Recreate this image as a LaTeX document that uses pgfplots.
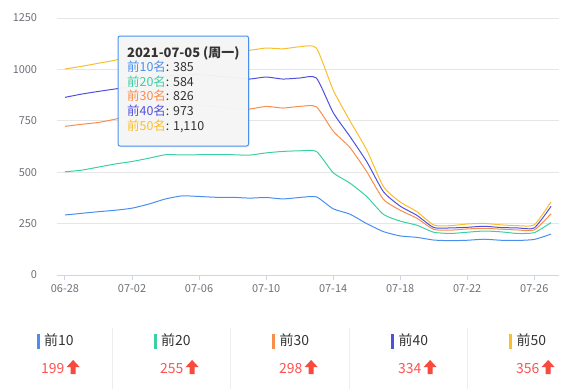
\documentclass[border=0pt]{standalone}
\usepackage{pgfplots}
\usepackage{pgfplotstable}
\pgfplotsset{compat=1.18}
\usepackage{fontspec}
\setmainfont{Noto Sans CJK SC}
\definecolor{cA}{HTML}{4A8FF0}
\definecolor{cB}{HTML}{3CCFA4}
\definecolor{cC}{HTML}{F98D4C}
\definecolor{cD}{HTML}{5050E0}
\definecolor{cE}{HTML}{FBBE2C}
\definecolor{gridc}{HTML}{E6E6E6}
\definecolor{axisc}{HTML}{CCD6EB}
\definecolor{tickc}{HTML}{6E7079}
\definecolor{redc}{HTML}{F84A3E}
\definecolor{numc}{HTML}{FF5252}
\definecolor{sepc}{HTML}{EDEDED}
\definecolor{txt}{HTML}{333333}

\pgfplotstableread{
d t10 t20 t30 t40 t50
0 292 502 723 864 1002
1 300 510 733 880 1015
2 308 525 742 893 1030
3 315 540 758 905 1045
4 325 552 778 918 1068
5 345 568 803 945 1095
6 370 585 820 966 1108
7 385 584 826 973 1110
8 382 585 824 975 1105
9 378 585 820 968 1100
10 378 585 810 962 1096
11 374 583 807 953 1093
12 377 594 820 963 1104
13 370 601 812 953 1100
14 377 604 820 958 1110
15 380 601 818 958 1104
16 322 498 700 790 900
17 296 447 620 674 750
18 250 382 503 552 609
19 211 295 368 405 430
20 190 262 315 335 355
21 183 242 276 290 308
22 170 208 222 231 243
23 167 202 218 229 240
24 169 208 224 232 248
25 174 214 227 237 251
26 169 210 223 231 244
27 168 202 219 229 240
28 173 206 219 229 244
29 199 255 298 334 356
}\datatable

\begin{document}
\begin{tikzpicture}[x=1bp,y=1bp]
\path[use as bounding box] (0,0) rectangle (582,389);
\begin{axis}[
  at={(56.6bp,114bp)}, anchor=south west,
  scale only axis, width=502.8bp, height=257bp,
  xmin=-0.5, xmax=29.5, ymin=0, ymax=1250,
  xtick={0,4,...,28},
  xticklabels={06-28,07-02,07-06,07-10,07-14,07-18,07-22,07-26},
  ytick={0,250,...,1250},
  ymajorgrids, grid style={draw=gridc, line width=0.8bp},
  axis x line*=bottom, axis y line*=left,
  y axis line style={draw=none},
  x axis line style={draw=axisc, line width=1bp, -},
  ytick style={draw=none},
  xtick style={draw=axisc, line width=1bp},
  tick align=outside, major tick length=5bp,
  tick label style={font=\fontsize{11}{13}\selectfont, text=tickc},
  yticklabel style={xshift=-11bp},
  xticklabel style={yshift=-1bp},
  /pgf/number format/assume math mode=true,
  /pgf/number format/1000 sep={},
  every axis plot/.append style={smooth, tension=0.35, no markers, line width=1bp},
]
\addplot[cA] table[x=d,y=t10] {\datatable};
\addplot[cB] table[x=d,y=t20] {\datatable};
\addplot[cC] table[x=d,y=t30] {\datatable};
\addplot[cD] table[x=d,y=t40] {\datatable};
\addplot[cE] table[x=d,y=t50] {\datatable};
\end{axis}

% tooltip
\fill[black, opacity=0.05, rounded corners=2] (119.5,241.5) rectangle (250,351.5);
\filldraw[fill=white!97!black, fill opacity=0.95, draw=cA, line width=1bp, rounded corners=2]
  (118,243) rectangle (248.5,353);
\node[anchor=base west, inner sep=0, text=txt, font=\fontsize{13}{15}\selectfont\bfseries] at (127,332) {2021-07-05 (周一)};
\begin{scope}[every node/.style={anchor=base west, inner sep=0, font=\fontsize{12.5}{14}\selectfont}]
\node at (127,317.5) {\textcolor{cA}{前10名}\textcolor{txt}{: 385}};
\node at (127,303) {\textcolor{cB}{前20名}\textcolor{txt}{: 584}};
\node at (127,288.3) {\textcolor{cC}{前30名}\textcolor{txt}{: 826}};
\node at (127,273.6) {\textcolor{cD}{前40名}\textcolor{txt}{: 973}};
\node at (127,258.9) {\textcolor{cE}{前50名}\textcolor{txt}{: 1,110}};
\end{scope}

% bottom legend
\foreach \sx in {112,230,349,467} {
  \draw[sepc, line width=1bp] (\sx,0) -- (\sx,61);
}
\foreach \bx/\col/\lab/\nx/\num in {36.5/cA/前10/41/199, 153.5/cB/前20/160/255, 272/cC/前30/279/298, 391/cD/前40/398/334, 509/cE/前50/516/356} {
  \fill[\col] (\bx,40) rectangle (\bx+3,55);
  \node[anchor=base west, inner sep=0, text=txt, font=\fontsize{14}{16}\selectfont] at (\bx+7.5,44) {\lab};
  \node[anchor=base west, inner sep=0, text=numc, font=\fontsize{14}{16}\selectfont] (n) at (\nx,16) {\num};
  \fill[redc] ([yshift=-1bp]n.base east) ++(6,0) -- ++(5,0) -- ++(0,7) -- ++(4,0) -- ++(-6.5,7) -- ++(-6.5,-7) -- ++(4,0) -- cycle;
}
\end{tikzpicture}
\end{document}
